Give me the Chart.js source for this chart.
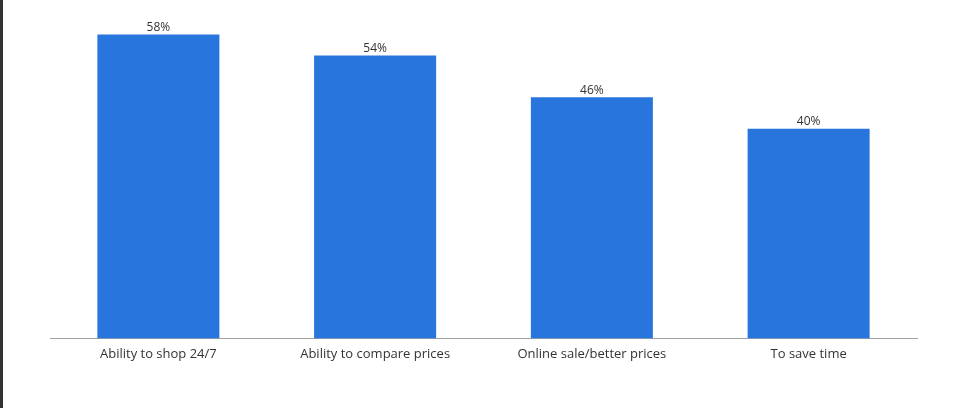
<!DOCTYPE html>
<html>
<head>
<meta charset="utf-8">
<script src="https://cdn.jsdelivr.net/npm/chart.js@4.4.0/dist/chart.umd.min.js"></script>
<style>
  html, body { margin: 0; padding: 0; background: #fff; overflow: hidden; }
  #wrap { position: relative; width: 962px; height: 408px; }
  #reasons { display: block; }
  #edge { position: absolute; left: 0; top: 0; width: 3px; height: 408px; background: #333; }
</style>
</head>
<body>
<div id="wrap">
  <canvas id="reasons" width="962" height="408"></canvas>
  <div id="edge"></div>
</div>
<script>
var categories = ["Ability to shop 24/7", "Ability to compare prices", "Online sale/better prices", "To save time"];
var shares = [58, 54, 46, 40];

var valueLabels = {
    id: 'valueLabels',
    afterDatasetsDraw: function (chart) {
        var c = chart.ctx;
        c.save();
        c.font = '12px "Open Sans"';
        c.fillStyle = '#333333';
        c.textAlign = 'center';
        c.textBaseline = 'bottom';
        chart.getDatasetMeta(0).data.forEach(function (bar, i) {
            c.fillText(shares[i] + '%', bar.x, bar.y - 1);
        });
        c.restore();
    }
};

var ctx = document.getElementById("reasons");
var reasonsChart = new Chart(ctx, {
    type: 'bar',
    data: {
        labels: categories,
        datasets: [{
            data: shares,
            backgroundColor: '#2876dd',
            barPercentage: 0.563,
            categoryPercentage: 1
        }]
    },
    options: {
        responsive: false,
        animation: false,
        layout: {
            padding: { left: 50, right: 45, top: 24, bottom: 38 }
        },
        plugins: {
            legend: { display: false },
            tooltip: { enabled: false }
        },
        scales: {
            x: {
                grid: { display: false, drawTicks: false },
                border: { color: '#a0a0a0', width: 1 },
                ticks: {
                    color: '#333333',
                    font: { family: 'Open Sans', size: 13 },
                    padding: 8,
                    maxRotation: 0
                }
            },
            y: {
                display: false,
                min: 0,
                max: 60
            }
        }
    },
    plugins: [valueLabels]
});
</script>
</body>
</html>
